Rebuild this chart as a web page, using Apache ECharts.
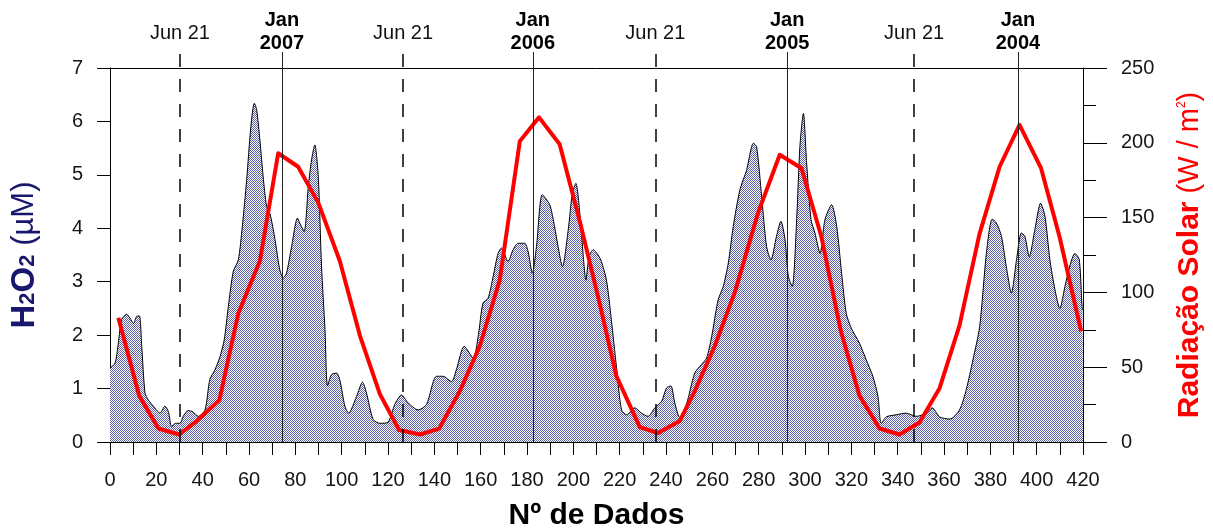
<!DOCTYPE html>
<html>
<head>
<meta charset="utf-8">
<title>H2O2 e Radiação Solar</title>
<script src="https://cdn.jsdelivr.net/npm/echarts@6/dist/echarts.min.js"></script>
<style>
  html, body { margin: 0; padding: 0; background: #ffffff; }
  #chart { width: 1213px; height: 531px; }
</style>
</head>
<body>
<div id="chart"></div>
<script>
// H2O2 concentration (µM) against data index
const h2o2Index = [
  0, 2.2, 3.6, 5.0, 7.2, 8.6, 10.1, 11.5, 12.7, 13.7, 15.1, 16.5, 18.7, 21.6, 23.7, 25.2, 26.6, 28.3,
  30.2, 31.6, 33.8, 35.9, 38.1, 41.0, 43.1, 45.3, 47.5, 49.3, 51.1, 53.2, 55.4, 57.1, 59.0, 60.8,
  62.3, 63.3, 64.7, 66.1, 67.6, 69.0, 70.5, 71.9, 73.3, 74.8, 76.2, 78.4, 80.9, 81.9, 83.8, 85.6,
  87.0, 88.4, 89.9, 91.3, 92.8, 93.9, 95.6, 97.8, 99.2, 101.4, 103.0, 106.4, 109.0, 110.7, 113.6,
  116.5, 120.0, 122.9, 125.8, 128.7, 133.0, 136.6, 140.9, 143.8, 147.4, 149.5, 152.9, 156.8, 159.0,
  161.0, 163.2, 165.4, 167.5, 169.0, 171.8, 174.0, 176.2, 179.0, 180.5, 182.3, 184.1, 186.6, 189.8,
  191.9, 193.4, 195.3, 197.8, 199.6, 201.1, 202.8, 204.3, 205.4, 206.8, 208.6, 210.7, 212.1, 214.3,
  216.4, 218.6, 220.8, 223.0, 226.5, 229.4, 232.3, 235.2, 238.1, 240.2, 242.1, 243.8, 246.0, 248.8,
  252.4, 255.3, 257.5, 259.7, 262.5, 264.7, 266.9, 269.0, 271.9, 274.8, 277.7, 279.1, 281.3, 283.4,
  285.3, 287.7, 289.6, 291.4, 292.8, 294.5, 296.4, 297.8, 299.3, 300.7, 302.6, 304.3, 306.5, 308.6,
  311.5, 313.7, 315.8, 317.8, 320.0, 323.5, 326.4, 329.3, 331.5, 332.9, 335.1, 339.4, 343.7, 348.0,
  352.4, 354.9, 358.1, 362.5, 366.7, 369.6, 372.5, 375.4, 378.3, 380.8, 382.6, 384.8, 386.9, 389.1,
  391.3, 393.4, 394.9, 396.8, 399.2, 401.7, 403.6, 405.7, 407.9, 410.0, 412.2, 414.4, 416.5, 418.4,
  419.8, 420
];
const h2o2Values = [
  1.38, 1.48, 1.85, 2.29, 2.39, 2.32, 2.22, 2.35, 2.36, 1.79, 0.92, 0.79, 0.67, 0.54, 0.67, 0.57, 0.29, 0.35,
  0.35, 0.48, 0.59, 0.56, 0.48, 0.60, 1.17, 1.35, 1.60, 1.91, 2.54, 3.19, 3.41, 4.03, 4.91, 5.90,
  6.34, 6.22, 5.65, 4.97, 4.41, 4.28, 3.97, 3.60, 3.22, 3.07, 3.16, 3.66, 4.19, 4.10, 3.94, 4.78,
  5.28, 5.56, 4.97, 3.29, 2.10, 1.05, 1.26, 1.29, 1.16, 0.67, 0.54, 0.85, 1.12, 0.92, 0.42,
  0.35, 0.37, 0.70, 0.88, 0.73, 0.60, 0.70, 1.23, 1.23, 1.13, 1.35, 1.79, 1.57, 2.00,
  2.60, 2.69, 3.10, 3.53, 3.63, 3.38, 3.60, 3.72, 3.72, 3.56, 3.16, 3.66, 4.63, 4.44,
  4.03, 3.66, 3.28, 3.97, 4.66, 4.84, 4.28, 3.47, 3.03, 3.47, 3.60, 3.50, 3.38, 3.03,
  2.29, 1.41, 0.60, 0.51, 0.64, 0.54, 0.48, 0.64, 0.76, 1.01, 1.05, 0.73, 0.45, 0.70,
  1.29, 1.45, 1.57, 1.97, 2.66, 2.91, 3.35, 4.03, 4.72, 5.09, 5.59, 5.53, 4.59, 3.66,
  3.41, 3.85, 4.13, 3.78, 3.10, 2.91, 4.16, 5.53, 6.15, 5.22, 4.16, 3.91, 3.53, 4.16,
  4.44, 4.03, 3.16, 2.41, 2.13, 1.85, 1.54, 1.23, 0.85, 0.35, 0.47, 0.51, 0.54, 0.48,
  0.54, 0.64, 0.47, 0.43, 0.60, 0.98, 1.54, 2.16, 3.53, 4.17, 4.10, 3.85, 3.28, 2.79,
  3.41, 3.91, 3.85, 3.47, 3.97, 4.47, 4.22, 3.41, 2.85, 2.50, 2.91, 3.31, 3.53, 3.41,
  2.47, 2.47
];

// Monthly solar radiation (W/m²)
const solarIndex = [
  3.6, 12.6, 20.9, 29.8, 37.4, 47.2, 55.4, 64.7, 72.6, 81.2, 89.9, 99.2, 107.9, 116.5, 124.8,
  133.8, 142.1, 151.0, 159.6, 168.2, 176.9, 185.2, 194.1, 202.7, 211.0, 218.6, 228.7, 236.6,
  245.9, 252.4, 261.0, 269.7, 279.7, 289.1, 298.5, 307.1, 315.5, 323.5, 332.2, 340.8, 349.4,
  358.1, 366.7, 375.3, 384.0, 392.6, 401.9, 409.9, 419.2
];
const solarValues = [
  83, 31, 9, 5, 14, 28, 86, 121, 193, 184, 160, 121, 71, 32, 8,
  5, 9, 34, 64, 108, 201, 217, 199, 148, 95, 44, 10, 6,
  14, 34, 64, 100, 153, 192, 183, 137, 74, 31, 9, 5, 13,
  36, 78, 139, 184, 212, 183, 137, 74
];

// Season markers along the index axis
const junMarks = [30.2, 126.5, 235.4, 347.1];
const junLabel = 'Jun 21';
const janMarks = [74.2, 182.5, 292.3, 391.9];
const janYears = ['2007', '2006', '2005', '2004'];

// Axis ticks
const xTicks = { min: 0, max: 420, step: 20 };
const leftTicks = { min: 0, max: 7, step: 1 };
const rightTicks = { min: 0, max: 250, step: 50 };

const FONT = '"Liberation Sans", Arial, Helvetica, sans-serif';
const NAVY = '#17176e';
const RED = '#ff0000';

function pairs(xs, ys) {
  return xs.map((x, i) => [x, ys[i]]);
}

// fine dot texture used for the H2O2 area
function dotPattern() {
  const c = document.createElement('canvas');
  c.width = 2; c.height = 2;
  const g = c.getContext('2d');
  g.fillStyle = '#ffffff';
  g.fillRect(0, 0, 2, 2);
  g.fillStyle = '#5a5faa';
  g.fillRect(0, 0, 1, 1);
  g.fillRect(1, 1, 1, 1);
  return c;
}

const markData = [];
junMarks.forEach(v => markData.push({
  xAxis: v,
  lineStyle: { type: [13, 12], width: 1.5, color: '#000000' },
  label: {
    show: true, position: 'end', distance: 9, formatter: junLabel,
    fontFamily: FONT, fontSize: 20, color: '#111111'
  }
}));
janMarks.forEach((v, i) => markData.push({
  xAxis: v,
  lineStyle: { type: 'solid', width: 1, color: '#222222' },
  label: {
    show: true, position: 'end', distance: -3, formatter: 'Jan\n' + janYears[i],
    fontFamily: FONT, fontSize: 20, fontWeight: 'bold', lineHeight: 23, color: '#000000'
  }
}));

const axisLineStyle = { color: '#000000', width: 1 };
const labelStyle = { fontFamily: FONT, fontSize: 20, color: '#151515' };

const chart = echarts.init(document.getElementById('chart'), null, { renderer: 'canvas' });
chart.setOption({
  animation: false,
  backgroundColor: '#ffffff',
  textStyle: { fontFamily: FONT },
  grid: [
    { left: 110, right: 130, top: 68, bottom: 89, containLabel: false, outerBoundsMode: 'none' },
    { left: 110, right: 130, top: 52, bottom: 89, containLabel: false, outerBoundsMode: 'none' }
  ],
  xAxis: [
    {
      gridIndex: 0, type: 'value', position: 'bottom',
      min: xTicks.min, max: xTicks.max, interval: xTicks.step,
      axisLine: { show: true, onZero: false, lineStyle: axisLineStyle },
      axisTick: { show: true, length: 13, lineStyle: axisLineStyle },
      minorTick: { show: true, splitNumber: 2, length: 13, lineStyle: axisLineStyle },
      axisLabel: Object.assign({ margin: 28 }, labelStyle),
      splitLine: { show: false },
      name: 'Nº de Dados', nameLocation: 'middle', nameGap: 59,
      nameTextStyle: { fontFamily: FONT, fontSize: 30, fontWeight: 'bold', color: '#000000' }
    },
    {
      gridIndex: 0, type: 'value', position: 'top',
      min: xTicks.min, max: xTicks.max,
      axisLine: { show: true, onZero: false, lineStyle: axisLineStyle },
      axisTick: { show: false }, axisLabel: { show: false }, splitLine: { show: false }
    },
    {
      gridIndex: 1, type: 'value', min: xTicks.min, max: xTicks.max, show: false
    }
  ],
  yAxis: [
    {
      gridIndex: 0, type: 'value', position: 'left',
      min: leftTicks.min, max: leftTicks.max, interval: leftTicks.step,
      axisLine: { show: true, onZero: false, lineStyle: axisLineStyle },
      axisTick: { show: true, length: 13, lineStyle: axisLineStyle },
      axisLabel: Object.assign({ margin: 27 }, labelStyle),
      splitLine: { show: false },
      name: '{b|H}{s|2}{b|O}{s|2}{r| (µM)}',
      nameLocation: 'middle', nameRotate: 90, nameGap: 62,
      nameTextStyle: {
        color: NAVY,
        rich: {
          b: { fontFamily: FONT, fontSize: 33, fontWeight: 'bold', color: NAVY, padding: [0, 0, 7, 0] },
          s: { fontFamily: FONT, fontSize: 22, fontWeight: 'bold', color: NAVY },
          r: { fontFamily: FONT, fontSize: 31, color: NAVY, padding: [0, 0, 7, 0] }
        }
      }
    },
    {
      gridIndex: 0, type: 'value', position: 'right',
      min: rightTicks.min, max: rightTicks.max, interval: rightTicks.step,
      axisLine: { show: true, onZero: false, lineStyle: axisLineStyle },
      axisTick: { show: true, length: 24, lineStyle: axisLineStyle },
      minorTick: { show: true, splitNumber: 2, length: 13, lineStyle: axisLineStyle },
      axisLabel: Object.assign({ margin: 38 }, labelStyle),
      splitLine: { show: false },
      name: '{b|Radiação Solar}{r| (W / m}{p|2}{r|)}',
      nameLocation: 'middle', nameRotate: 90, nameGap: 92,
      nameTextStyle: {
        color: RED,
        rich: {
          b: { fontFamily: FONT, fontSize: 30, fontWeight: 'bold', color: RED },
          r: { fontFamily: FONT, fontSize: 29, color: RED },
          p: { fontFamily: FONT, fontSize: 12, color: RED, padding: [0, 0, 16, 0] }
        }
      }
    },
    {
      gridIndex: 1, type: 'value', min: 0, max: 1, show: false
    }
  ],
  series: [
    {
      name: 'H2O2', type: 'line', xAxisIndex: 0, yAxisIndex: 0,
      data: pairs(h2o2Index, h2o2Values),
      symbol: 'none', smooth: 0.25, z: 2,
      lineStyle: { color: '#000000', width: 1 },
      areaStyle: { color: { image: dotPattern(), repeat: 'repeat' }, opacity: 1 }
    },
    {
      name: 'marcos', type: 'line', xAxisIndex: 2, yAxisIndex: 2,
      data: [], z: 3, silent: true,
      markLine: { symbol: ['none', 'none'], silent: true, animation: false, data: markData }
    },
    {
      name: 'Radiação Solar', type: 'line', xAxisIndex: 0, yAxisIndex: 1,
      data: pairs(solarIndex, solarValues),
      symbol: 'none', z: 4,
      lineStyle: { color: RED, width: 4, join: 'round' }
    }
  ]
});
</script>
</body>
</html>
